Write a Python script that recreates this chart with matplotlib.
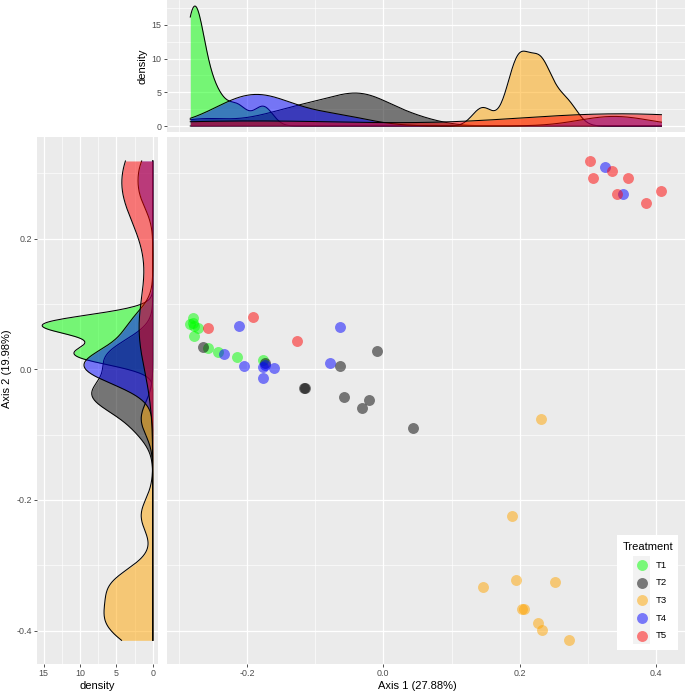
import numpy as np
import matplotlib
matplotlib.use("Agg")
import matplotlib.pyplot as plt
from matplotlib.ticker import MultipleLocator, FuncFormatter
from matplotlib.patches import Rectangle

# ---------------- data ----------------
treatments = ["T1", "T2", "T3", "T4", "T5"]
colors = ["#00FF00", "#000000", "#FFA500", "#0000FF", "#FF0000"]

t1_x = [-0.2797, -0.283, -0.277, -0.271, -0.279, -0.277, -0.257, -0.242, -0.214, -0.176]
t1_y = [0.078, 0.069, 0.066, 0.064, 0.071, 0.051, 0.032, 0.026, 0.019, 0.014]

t2_x = [-0.264, -0.173, -0.116, -0.115, -0.0635, -0.010, -0.057, -0.0215, -0.032, 0.043]
t2_y = [0.034, 0.009, -0.028, -0.029, 0.0046, 0.028, -0.042, -0.047, -0.059, -0.090]

t3_x = [0.2303, 0.189, 0.1947, 0.251, 0.1454, 0.2025, 0.206, 0.226, 0.232, 0.272]
t3_y = [-0.0756, -0.224, -0.3227, -0.326, -0.334, -0.367, -0.3666, -0.388, -0.399, -0.415]

t4_x = [-0.212, -0.064, -0.233, -0.204, -0.176, -0.173, -0.160, -0.176, -0.0786, 0.3255, 0.351]
t4_y = [0.066, 0.065, 0.023, 0.005, 0.003, 0.0066, 0.0015, -0.013, 0.009, 0.310, 0.268]

t5_x = [-0.257, -0.191, -0.127, 0.3035, 0.3065, 0.335, 0.358, 0.343, 0.385, 0.4075]
t5_y = [0.064, 0.080, 0.044, 0.319, 0.293, 0.303, 0.293, 0.269, 0.255, 0.2726]

xs = [t1_x, t2_x, t3_x, t4_x, t5_x]
ys = [t1_y, t2_y, t3_y, t4_y, t5_y]

x_label = "Axis 1 (27.88%)"
y_label = "Axis 2 (19.98%)"
dens_label = "density"
legend_title = "Treatment"

# ---------------- helpers ----------------
def bw_nrd0(v):
    v = np.asarray(v, float)
    hi = np.std(v, ddof=1)
    q75, q25 = np.percentile(v, [75, 25])
    lo = min(hi, (q75 - q25) / 1.34)
    if lo <= 0:
        lo = hi
    return 0.9 * lo * len(v) ** -0.2

def kde(v, grid):
    v = np.asarray(v, float)
    bw = bw_nrd0(v)
    z = (grid[:, None] - v[None, :]) / bw
    return np.exp(-0.5 * z ** 2).sum(axis=1) / (len(v) * bw * np.sqrt(2 * np.pi))

plt.rcParams["font.family"] = ["Liberation Sans", "DejaVu Sans"]
plt.rcParams["axes.unicode_minus"] = False

W, H = 685, 692
fig = plt.figure(figsize=(W / 100, H / 100), dpi=100)

def px_rect(x0, y0, x1, y1):
    return [x0 / W, 1 - y1 / H, (x1 - x0) / W, (y1 - y0) / H]

BG = "#EBEBEB"
TICK_FS = 6.4
TITLE_FS = 8.0
TICK_COL = "#4D4D4D"

def style(ax):
    ax.set_facecolor(BG)
    for s in ax.spines.values():
        s.set_visible(False)
    ax.grid(True, which="major", color="white", lw=0.9)
    ax.grid(True, which="minor", color="white", lw=0.45)
    ax.set_axisbelow(True)
    ax.tick_params(which="major", length=2.0, width=0.6, color="#333333",
                   labelsize=TICK_FS, labelcolor=TICK_COL, pad=1.6)
    ax.tick_params(which="minor", length=0)

fmt1 = FuncFormatter(lambda v, p: f"{0.0 if abs(v) < 1e-9 else v:.1f}")
fmt0 = FuncFormatter(lambda v, p: f"{v:.0f}")

allx = np.concatenate([np.asarray(a) for a in xs])
ally = np.concatenate([np.asarray(a) for a in ys])
xr = allx.max() - allx.min()
yr = ally.max() - ally.min()
xlim = (allx.min() - 0.05 * xr, allx.max() + 0.05 * xr)
ylim = (ally.min() - 0.05 * yr, ally.max() + 0.05 * yr)

# ---------------- main scatter ----------------
ax = fig.add_axes(px_rect(166.7, 137, 685, 664.3))
style(ax)
for xv, yv, c in zip(xs, ys, colors):
    ax.scatter(xv, yv, s=62, color=c, alpha=0.5, linewidths=0, zorder=3)
ax.set_xlim(xlim)
ax.set_ylim(ylim)
ax.xaxis.set_major_locator(MultipleLocator(0.2))
ax.xaxis.set_minor_locator(MultipleLocator(0.1))
ax.yaxis.set_major_locator(MultipleLocator(0.2))
ax.yaxis.set_minor_locator(MultipleLocator(0.1))
ax.xaxis.set_major_formatter(fmt1)
ax.tick_params(axis="y", which="both", length=0, labelleft=False)

# ---------------- top density ----------------
gx = np.linspace(allx.min(), allx.max(), 512)
axt = fig.add_axes(px_rect(166.7, 0, 685, 132))
style(axt)
dmax = 0
for i, (xv, c) in enumerate(zip(xs, colors)):
    d = kde(xv, gx)
    dmax = max(dmax, d.max())
    axt.fill_between(gx, 0, d, color=c, alpha=0.5, lw=0, zorder=2 + 2 * i)
    axt.plot(gx, d, color="black", lw=0.75, zorder=3 + 2 * i)
axt.set_xlim(xlim)
axt.set_ylim(-0.05 * dmax, 1.05 * dmax)
axt.xaxis.set_major_locator(MultipleLocator(0.2))
axt.xaxis.set_minor_locator(MultipleLocator(0.1))
axt.yaxis.set_major_locator(MultipleLocator(5))
axt.yaxis.set_minor_locator(MultipleLocator(2.5))
axt.yaxis.set_major_formatter(fmt0)
axt.tick_params(axis="x", which="both", length=0, labelbottom=False)

# ---------------- left density ----------------
gy = np.linspace(ally.min(), ally.max(), 512)
axl = fig.add_axes(px_rect(36.7, 137, 158.3, 664.3))
style(axl)
dmax2 = 0
for i, (yv, c) in enumerate(zip(ys, colors)):
    d = kde(yv, gy)
    dmax2 = max(dmax2, d.max())
    axl.fill_betweenx(gy, 0, d, color=c, alpha=0.5, lw=0, zorder=2 + 2 * i)
    axl.plot(d, gy, color="black", lw=0.75, zorder=3 + 2 * i)
axl.set_ylim(ylim)
axl.set_xlim(1.05 * dmax2, -0.05 * dmax2)
axl.xaxis.set_major_locator(MultipleLocator(5))
axl.xaxis.set_minor_locator(MultipleLocator(2.5))
axl.yaxis.set_major_locator(MultipleLocator(0.2))
axl.yaxis.set_minor_locator(MultipleLocator(0.1))
axl.xaxis.set_major_formatter(fmt0)
axl.yaxis.set_major_formatter(fmt1)

# ---------------- axis titles ----------------
fig.text(417.5 / W, 1 - 686 / H, x_label, ha="center", va="center", fontsize=TITLE_FS)
fig.text(7 / W, 1 - 369 / H, y_label, ha="center", va="center", rotation=90, fontsize=TITLE_FS)
fig.text(97.5 / W, 1 - 686 / H, dens_label, ha="center", va="center", fontsize=TITLE_FS)
fig.text(142.5 / W, 1 - 66 / H, dens_label, ha="center", va="center", rotation=90, fontsize=TITLE_FS)

# ---------------- legend ----------------
lx0, ly0, lx1, ly1 = 617, 535, 678, 650
lg = fig.add_axes(px_rect(lx0, ly0, lx1, ly1))
lg.set_xlim(0, lx1 - lx0)
lg.set_ylim(ly1 - ly0, 0)
lg.set_facecolor("white")
for s in lg.spines.values():
    s.set_visible(False)
lg.set_xticks([])
lg.set_yticks([])
lg.text(5.5, 11.5, legend_title, ha="left", va="center", fontsize=TITLE_FS)
lg.add_patch(Rectangle((16, 21), 17, 88, color="#F2F2F2", lw=0))
key_y = 30 + 17.7 * np.arange(len(treatments))
for k, (t, c) in enumerate(zip(treatments, colors)):
    lg.scatter([24.5], [key_y[k]], s=62, color=c, alpha=0.5, linewidths=0, zorder=3)
    lg.text(39, key_y[k], t, ha="left", va="center", fontsize=TICK_FS + 0.4)

fig.savefig("out.png", dpi=100)
